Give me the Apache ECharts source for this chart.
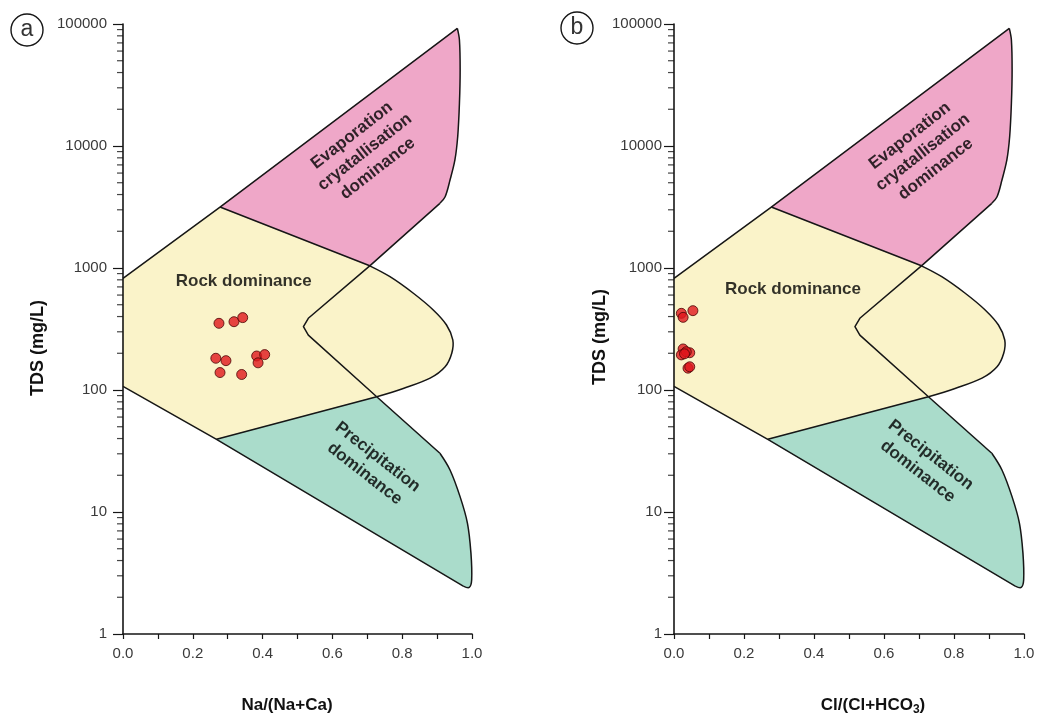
<!DOCTYPE html>
<html>
<head>
<meta charset="utf-8">
<script src="https://cdn.jsdelivr.net/npm/echarts@6/dist/echarts.min.js"></script>
<style>
    html, body { margin: 0; padding: 0; background: #fff; }
    #chart { width: 1041px; height: 720px; }
</style>
</head>
<body>
<div id="chart"></div>
<script>
// samples, panel (a): Na/(Na+Ca) vs TDS
const naRatio = [0.275, 0.318, 0.343, 0.266, 0.295, 0.383, 0.406, 0.387, 0.278, 0.340];
const tdsA = [352, 363, 392, 182, 174, 190, 195, 167, 139, 134];

// samples, panel (b): Cl/(Cl+HCO3) vs TDS
const clRatio = [0.021, 0.026, 0.054, 0.026, 0.021, 0.045, 0.035, 0.040, 0.045, 0.030];
const tdsB = [425, 394, 447, 217, 194, 202, 206, 151, 155, 198];

// Gibbs field outlines [ratio, TDS]
const evaporationTop = [0.278, 3160];
const evaporationEdge = [
    [0.958, 92200], [0.964, 74000], [0.966, 42000], [0.964, 22400], [0.959, 11900],
    [0.951, 7680], [0.937, 5260], [0.923, 3840], [0.908, 3390]
];
const upperJoin = [0.707, 1042];
const rockBulge = [
    [0.707, 1042], [0.765, 849], [0.832, 621], [0.889, 453], [0.927, 341], [0.945, 257],
    [0.942, 200], [0.923, 155], [0.880, 125], [0.803, 103], [0.727, 88]
];
const lowerJoin = [0.727, 88];
const precipitationEdge = [
    [0.908, 30.3], [0.937, 22.1], [0.966, 13.3], [0.987, 8.08], [0.997, 4.58],
    [0.999, 2.77], [0.992, 2.41], [0.975, 2.47]
];
const precipitationLeft = [0.268, 39.4];
const axisTop = [0, 823];
const axisBottom = [0, 107];
const notchLine = [[0.707, 1042], [0.531, 387], [0.517, 330], [0.531, 282], [0.727, 88]];

// zone captions [ratio, TDS] per panel
const zoneLabels = ['Rock dominance', 'Evaporation\ncryatallisation\ndominance', 'Precipitation\ndominance'];
const zoneLabelRotate = [0, 38, -38];
const zoneLabelPosA = [[0.346, 785], [0.693, 8930], [0.711, 24.1]];
const zoneLabelPosB = [[0.340, 669], [0.711, 8850], [0.715, 25.1]];

const yTickValues = [1, 10, 100, 1000, 10000, 100000];
const minorMantissas = [2, 3, 4, 5, 6, 7, 8, 9];
const minorTickValues = yTickValues.slice(0, -1).flatMap((d) => minorMantissas.map((m) => m * d));

const FONT = '"Liberation Sans", Arial, sans-serif';
const INK = '#161616';

const rockZone = [axisTop, evaporationTop, ...rockBulge, precipitationLeft, axisBottom];
const evaporationZone = [evaporationTop, ...evaporationEdge, upperJoin];
const precipitationZone = [lowerJoin, ...precipitationEdge, precipitationLeft];

// outline pieces: straight edges and smoothed curves
const outlines = [
    { points: [axisTop, evaporationTop, evaporationEdge[0]], smooth: 0 },
    { points: evaporationEdge, smooth: 0.35 },
    { points: [evaporationEdge[evaporationEdge.length - 1], upperJoin, evaporationTop], smooth: 0 },
    { points: rockBulge, smooth: 0.35 },
    { points: notchLine, smooth: 0 },
    { points: [lowerJoin, precipitationEdge[0]], smooth: 0 },
    { points: precipitationEdge, smooth: 0.35 },
    { points: [precipitationEdge[precipitationEdge.length - 1], precipitationLeft, axisBottom], smooth: 0 },
    { points: [precipitationLeft, lowerJoin], smooth: 0 },
];

function fillSeries(idx) {
    const zones = [
        { points: rockZone, fill: '#faf3c9' },
        { points: evaporationZone, fill: '#efa7c8' },
        { points: precipitationZone, fill: '#aadccb' },
    ];

    return {
        type: 'custom',
        xAxisIndex: idx,
        yAxisIndex: idx,
        silent: true,
        data: [0],
        renderItem: (params, api) => ({
            type: 'group',
            children: zones.map((zone) => ({
                type: 'polygon',
                shape: { points: zone.points.map((p) => api.coord(p)) },
                style: { fill: zone.fill, stroke: zone.fill, lineWidth: 0.8 },
            })).concat(outlines.map((line) => ({
                type: 'polyline',
                shape: { points: line.points.map((p) => api.coord(p)), smooth: line.smooth },
                style: { fill: 'none', stroke: INK, lineWidth: 1.5, lineJoin: 'round' },
            }))),
        }),
    };
}

function xAxisFor(idx) {
    return {
        type: 'value',
        gridIndex: idx,
        min: 0,
        max: 1,
        interval: 0.2,
        z: 10,
        axisLine: { lineStyle: { color: INK, width: 1.6 } },
        axisTick: { length: 5, lineStyle: { color: INK, width: 1.2 } },
        minorTick: { show: true, splitNumber: 2, length: 5, lineStyle: { color: INK, width: 1.2 } },
        splitLine: { show: false },
        axisLabel: {
            fontFamily: FONT,
            fontSize: 15,
            color: '#3a3a3a',
            margin: 12,
            formatter: (v) => v.toFixed(1),
        },
    };
}

function yAxisFor(idx, margin) {
    return {
        type: 'log',
        logBase: 10,
        gridIndex: idx,
        min: 1,
        max: 100000,
        splitNumber: 5,
        z: 10,
        axisLine: { lineStyle: { color: INK, width: 1.6 } },
        axisTick: { length: 10, lineStyle: { color: INK, width: 1.2 } },
        minorTick: { show: false },
        splitLine: { show: false },
        axisLabel: {
            fontFamily: FONT,
            fontSize: 15,
            color: '#3a3a3a',
            margin: margin,
            formatter: (v) => String(Math.round(v)),
        },
    };
}

function minorTickSeries(idx) {
    return {
        type: 'scatter',
        xAxisIndex: idx,
        yAxisIndex: idx,
        silent: true,
        clip: false,
        z: 11,
        symbol: 'rect',
        symbolSize: [6, 1.2],
        symbolOffset: [-3, 0],
        itemStyle: { color: INK },
        data: minorTickValues.map((v) => [0, v]),
    };
}

function sampleSeries(xs, ys, idx) {
    return {
        type: 'scatter',
        xAxisIndex: idx,
        yAxisIndex: idx,
        z: 5,
        symbol: 'circle',
        symbolSize: 10,
        itemStyle: { color: '#e0161d', borderColor: '#4a0505', borderWidth: 1 },
        data: xs.map((x, i) => [x, ys[i]]),
    };
}

function labelSeries(positions, idx) {
    return {
        type: 'scatter',
        xAxisIndex: idx,
        yAxisIndex: idx,
        silent: true,
        z: 6,
        symbolSize: 1,
        itemStyle: { color: 'rgba(0,0,0,0)' },
        data: positions.map((p, i) => ({
            value: p,
            label: {
                show: true,
                position: 'inside',
                formatter: zoneLabels[i],
                rotate: zoneLabelRotate[i],
                fontFamily: FONT,
                fontSize: 17,
                fontWeight: 'bold',
                color: '#000',
                lineHeight: 21,
                align: 'center',
                verticalAlign: 'middle',
            },
        })),
    };
}

function panelSeries(idx, xs, ys, labelPos) {
    return [
        fillSeries(idx),
        labelSeries(labelPos, idx),
        sampleSeries(xs, ys, idx),
        minorTickSeries(idx),
    ];
}

function panelTag(letter, cx, cy) {
    return {
        type: 'group',
        children: [
            { type: 'circle', shape: { cx: cx, cy: cy, r: 16 }, style: { fill: '#fff', stroke: INK, lineWidth: 1.4 } },
            {
                type: 'text', x: cx, y: cy,
                style: { text: letter, font: '23px ' + FONT, fill: '#333', align: 'center', verticalAlign: 'middle' },
            },
        ],
    };
}

function axisTitle(text, x, y, rotation, size, rich) {
    return {
        type: 'text', x: x, y: y, rotation: rotation,
        style: {
            text: text,
            font: 'bold ' + size + 'px ' + FONT,
            fill: '#111',
            align: 'center',
            verticalAlign: 'middle',
            rich: rich,
        },
    };
}

const chart = echarts.init(document.getElementById('chart'), null, { renderer: 'canvas' });

chart.setOption({
    animation: false,
    backgroundColor: '#fff',
    grid: [
        { left: 123, top: 24, width: 349, height: 610 },
        { left: 674, top: 24, width: 350, height: 610 },
    ],
    xAxis: [xAxisFor(0), xAxisFor(1)],
    yAxis: [yAxisFor(0, 16), yAxisFor(1, 12)],
    series: [
        ...panelSeries(0, naRatio, tdsA, zoneLabelPosA),
        ...panelSeries(1, clRatio, tdsB, zoneLabelPosB),
    ],
    graphic: [
        panelTag('a', 27, 30),
        panelTag('b', 577, 28),
        axisTitle('TDS (mg/L)', 38, 348, Math.PI / 2, 18),
        axisTitle('TDS (mg/L)', 600, 337, Math.PI / 2, 18),
        axisTitle('Na/(Na+Ca)', 287, 705, 0, 17),
        axisTitle('Cl/(Cl+HCO{sub|3})', 873, 705, 0, 17, {
            sub: { font: 'bold 12px ' + FONT, fill: '#111', padding: [10, 0, 0, 0] },
        }),
    ],
});

window.addEventListener('resize', () => chart.resize());
</script>
</body>
</html>
